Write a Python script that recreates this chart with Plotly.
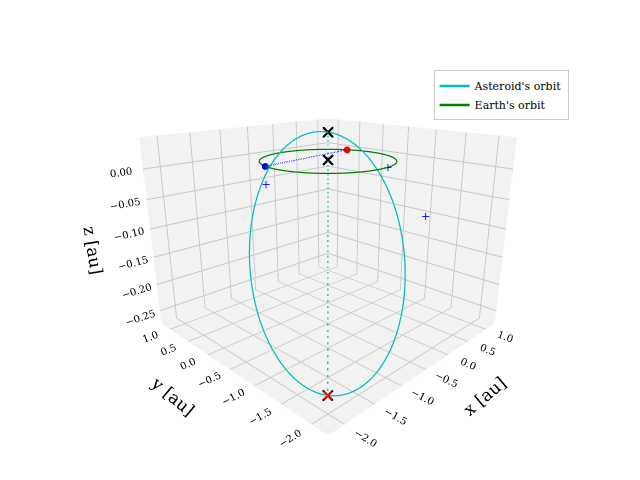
import numpy as np
import plotly.graph_objects as go

# orbital elements of the asteroid
a_ast = 1.5       # au
e_ast = 0.73
i_ast = 6.0       # deg
node_ast = -35.0  # deg, longitude of ascending node
peri_ast = 80.0   # deg, argument of perihelion

earth_pos = [-0.97, 0.25, 0.0]
target_pos = [0.89, 0.45, 0.0]
plus_x = [-0.97, 0.16, 0.75]
plus_y = [0.25, -0.99, -1.25]
plus_z = [-0.03, 0.0, -0.09]

x_ticks = [-2.0, -1.5, -1.0, -0.5, 0.0, 0.5, 1.0]
z_ticks = [-0.25, -0.20, -0.15, -0.10, -0.05, 0.00]


def orbit_xyz(a, e, inc, node, peri, nu):
    """Position in the ecliptic frame for true anomalies nu (rad)."""
    inc, node, peri = np.radians([inc, node, peri])
    r = a * (1 - e**2) / (1 + e * np.cos(nu))
    u = peri + nu
    x = r * (np.cos(node) * np.cos(u) - np.sin(node) * np.sin(u) * np.cos(inc))
    y = r * (np.sin(node) * np.cos(u) + np.cos(node) * np.sin(u) * np.cos(inc))
    z = r * np.sin(u) * np.sin(inc)
    return x, y, z


nu = np.linspace(0, 2 * np.pi, 400)
ax_, ay_, az_ = orbit_xyz(a_ast, e_ast, i_ast, node_ast, peri_ast, nu)
th = np.linspace(0, 2 * np.pi, 200)
ex, ey, ez = np.cos(th), np.sin(th), np.zeros_like(th)

px, py, pz = orbit_xyz(a_ast, e_ast, i_ast, node_ast, peri_ast, np.array([0.0, np.pi]))

fig = go.Figure()
fig.add_trace(go.Scatter3d(x=ax_, y=ay_, z=az_, mode='lines', name="Asteroid's orbit",
                           line=dict(color='#00bfbf', width=2.5)))
fig.add_trace(go.Scatter3d(x=ex, y=ey, z=ez, mode='lines', name="Earth's orbit",
                           line=dict(color='green', width=2.5)))
# line of apsides
fig.add_trace(go.Scatter3d(x=px, y=py, z=pz, mode='lines', showlegend=False,
                           line=dict(color='#00bfbf', width=2.5, dash='dash')))
fig.add_trace(go.Scatter3d(x=[earth_pos[0], target_pos[0]], y=[earth_pos[1], target_pos[1]],
                           z=[earth_pos[2], target_pos[2]], mode='lines', showlegend=False,
                           line=dict(color='blue', width=2.5, dash='dash')))
fig.add_trace(go.Scatter3d(x=[0, px[0], px[1]], y=[0, py[0], py[1]], z=[0, pz[0], pz[1]],
                           mode='markers', showlegend=False,
                           marker=dict(symbol='x', color='black', size=2.5)))
fig.add_trace(go.Scatter3d(x=[px[1]], y=[py[1]], z=[pz[1]], mode='markers', showlegend=False,
                           marker=dict(symbol='x', color='red', size=2)))
fig.add_trace(go.Scatter3d(x=[earth_pos[0]], y=[earth_pos[1]], z=[earth_pos[2]], mode='markers',
                           showlegend=False, marker=dict(color='blue', size=4)))
fig.add_trace(go.Scatter3d(x=[target_pos[0]], y=[target_pos[1]], z=[target_pos[2]], mode='markers',
                           showlegend=False, marker=dict(color='red', size=4)))
fig.add_trace(go.Scatter3d(x=plus_x, y=plus_y, z=plus_z, mode='markers', showlegend=False,
                           marker=dict(symbol='cross', color='blue', size=4,
                                       line=dict(color='blue'))))

axis_style = dict(showbackground=True, backgroundcolor='rgb(242,242,242)',
                  gridcolor='rgb(200,200,200)', showspikes=False, zeroline=False,
                  tickfont=dict(size=11), title_font=dict(size=17))

fig.update_layout(
    width=640, height=480,
    margin=dict(l=0, r=0, t=0, b=0),
    paper_bgcolor='white',
    font=dict(family='DejaVu Serif', color='black'),
    legend=dict(x=0.665, y=0.87, xanchor='left', yanchor='top', bordercolor='rgb(204,204,204)',
                borderwidth=1, font=dict(size=11)),
    scene=dict(
        domain=dict(x=[0.0, 1.0], y=[0.05, 0.95]),
        xaxis=dict(title='x [au]', range=[-2.25, 1.25], tickvals=x_ticks, tickformat='.1f', **axis_style),
        yaxis=dict(title='y [au]', range=[-2.25, 1.25], tickvals=x_ticks, tickformat='.1f', **axis_style),
        zaxis=dict(title='z [au]', range=[-0.275, 0.05], tickvals=z_ticks,
                   tickformat='.2f', **axis_style),
        aspectmode='manual', aspectratio=dict(x=1, y=1, z=0.78),
        camera=dict(eye=dict(x=-1.4, y=-1.4, z=0.65), center=dict(x=0, y=0, z=-0.05)),
    ),
)

fig.write_html("out.html")
